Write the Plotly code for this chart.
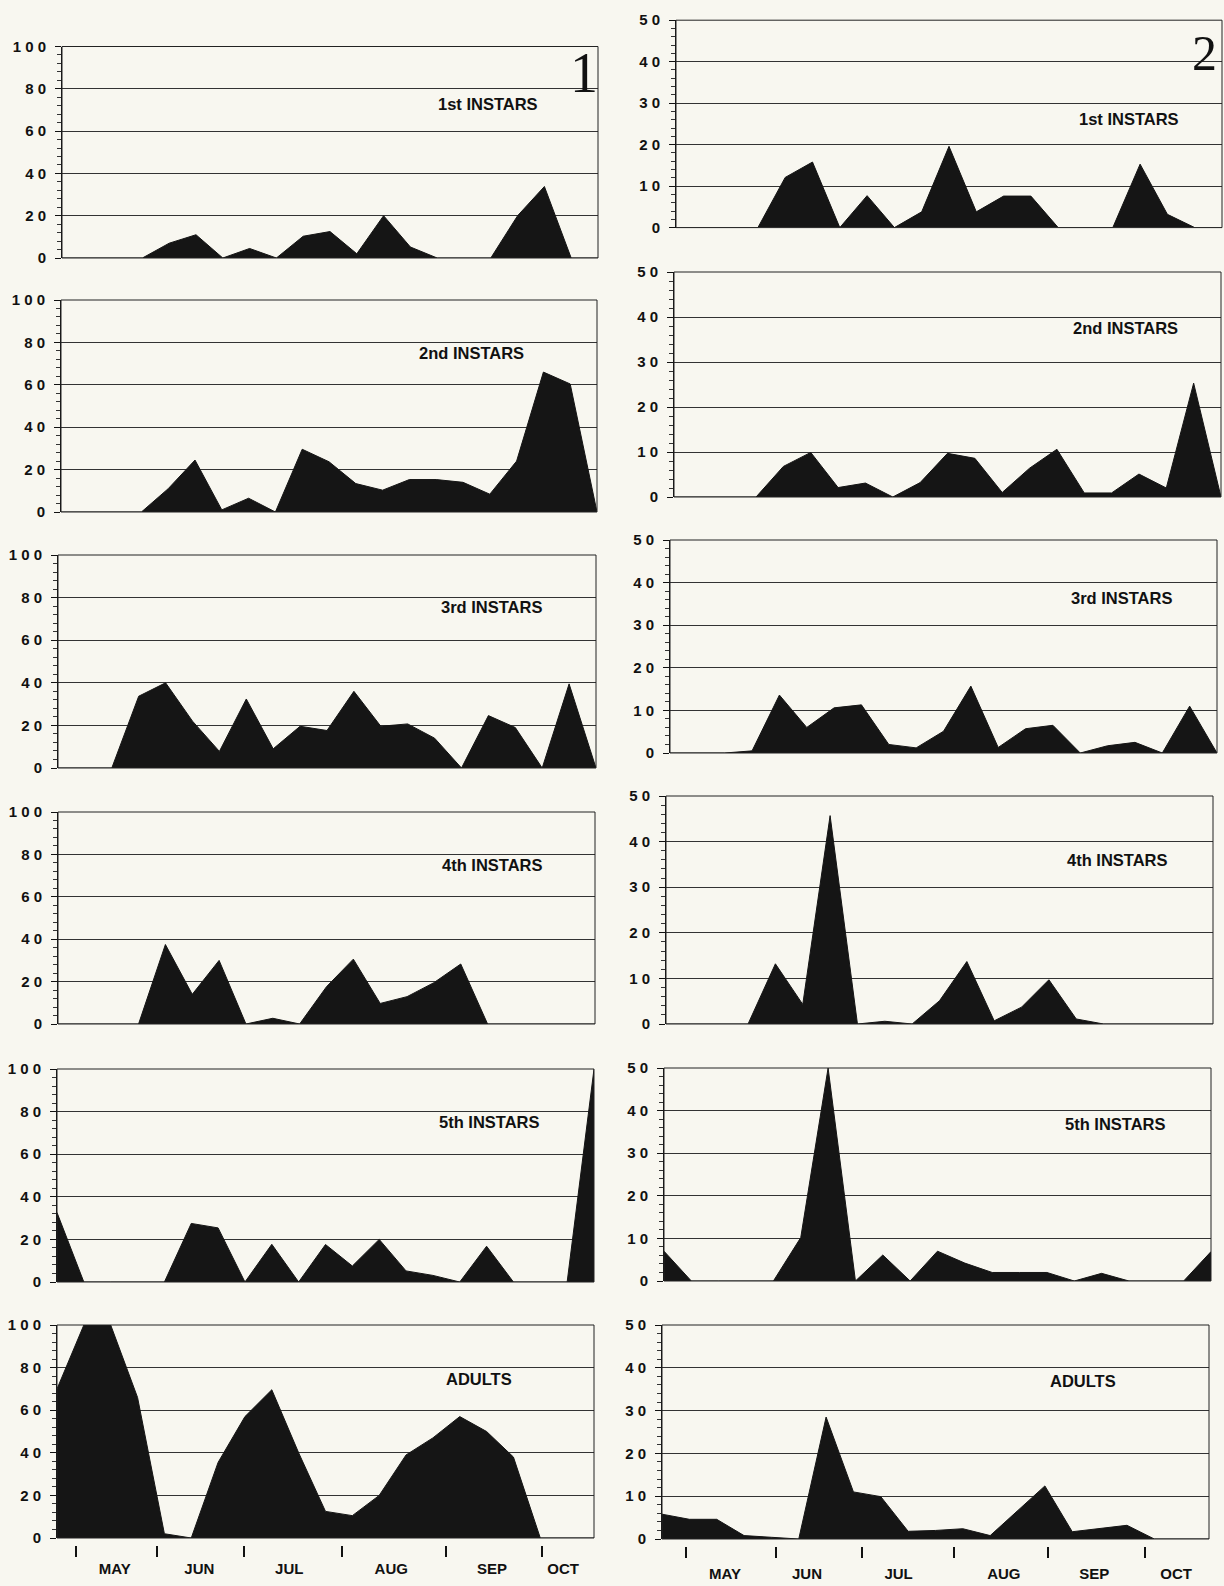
import plotly.graph_objects as go

# ---------------- data ----------------
weeks = list(range(21))  # weekly sampling dates, early May -> late October

stage_labels = ["1st INSTARS", "2nd INSTARS", "3rd INSTARS", "4th INSTARS", "5th INSTARS", "ADULTS"]

# Figure 1 (left column, 0-100 %)
fig1_1st = [0, 0, 0, 0, 7, 11, 0, 4.5, 0, 10.3, 12.5, 2, 20, 5.2, 0, 0, 0, 20, 33.8, 0, 0]
fig1_2nd = [0, 0, 0, 0, 11, 24.5, 1, 6.5, 0, 29.6, 23.7, 13.4, 10.3, 15.3, 15.3, 14, 8.4, 24, 66, 60.4, 0]
fig1_3rd = [0, 0, 0, 33.7, 40, 22, 7.8, 32.4, 9, 19.6, 17.6, 36, 19.6, 20.7, 14, 0, 24.6, 19, 0, 39.5, 0]
fig1_4th = [0, 0, 0, 0, 37.5, 14, 30, 0, 2.7, 0, 17.6, 30.6, 9.7, 12.9, 19.5, 28.3, 0, 0, 0, 0, 0]
fig1_5th = [32.6, 0, 0, 0, 0, 27.5, 25.4, 0, 17.7, 0, 17.6, 7.5, 20, 5.2, 3.1, 0, 16.8, 0, 0, 0, 100]
fig1_adults = [70, 100, 100, 66, 2, 0, 35.5, 57, 69.6, 40, 12.5, 10.5, 20, 39, 47, 57, 50, 38, 0, 0, 0]

# Figure 2 (right column, 0-50 %)
fig2_1st = [0, 0, 0, 0, 12.1, 15.8, 0, 7.7, 0, 3.8, 19.6, 3.8, 7.6, 7.6, 0, 0, 0, 15.3, 3.2, 0, 0]
fig2_2nd = [0, 0, 0, 0, 6.8, 9.9, 2.1, 3.1, 0, 3.2, 9.7, 8.6, 1.0, 6.4, 10.6, 0.9, 0.9, 5.1, 2, 25.3, 0]
fig2_3rd = [0, 0, 0, 0.5, 13.6, 6, 10.6, 11.3, 2, 1.2, 5.1, 15.7, 1.3, 5.7, 6.5, 0, 1.7, 2.5, 0, 11, 0]
fig2_4th = [0, 0, 0, 0, 13.2, 4.3, 45.7, 0, 0.6, 0, 5.1, 13.7, 0.7, 3.7, 9.7, 1.1, 0, 0, 0, 0, 0]
fig2_5th = [7, 0, 0, 0, 0, 10.2, 50, 0, 6.1, 0, 7, 4.2, 2, 2, 2, 0, 1.8, 0, 0, 0, 6.9]
fig2_adults = [5.8, 4.6, 4.6, 0.8, 0.4, 0, 28.5, 11, 9.9, 1.8, 2, 2.4, 0.8, 6.6, 12.4, 1.7, 2.4, 3.2, 0, 0, 0]

fig1_series = [fig1_1st, fig1_2nd, fig1_3rd, fig1_4th, fig1_5th, fig1_adults]
fig2_series = [fig2_1st, fig2_2nd, fig2_3rd, fig2_4th, fig2_5th, fig2_adults]

months = ["MAY", "JUN", "JUL", "AUG", "SEP", "OCT"]
fig1_month_label_pos = [2.15, 5.3, 8.65, 12.45, 16.2, 18.85]
fig1_month_boundaries = [0.72, 3.72, 6.95, 10.6, 14.5, 18.05]
fig2_month_label_pos = [2.3, 5.3, 8.65, 12.5, 15.8, 18.8]
fig2_month_boundaries = [0.87, 4.15, 7.3, 10.66, 14.1, 17.67]

fig1_yticks = [0, 20, 40, 60, 80, 100]
fig2_yticks = [0, 10, 20, 30, 40, 50]

# ---------------- layout geometry (pixels) ----------------
W, H = 1224, 1586
left_x = [(62, 598), (61, 597), (58, 596), (58, 595), (57, 594), (57, 594)]
left_y = [(46.5, 258), (300, 512), (555, 768), (812, 1024), (1069, 1282), (1325, 1538)]
right_x = [(676, 1222), (674, 1221), (670, 1217), (666, 1213), (664, 1211), (662, 1209)]
right_y = [(20.2, 227.6), (272, 497), (540, 753), (796, 1024), (1068, 1281), (1325, 1539)]

fig1_label_pos = [(15.9, 73), (15.3, 75), (16.1, 75.5), (16.2, 75), (16.1, 75), (15.7, 74.8)]
fig2_label_pos = [(16.6, 26.3), (16.5, 37.6), (16.5, 36.4), (16.5, 36), (16.5, 36.9), (15.4, 37)]

BG = "#f8f7f0"
FILL = "#151515"
FONT = "Liberation Sans, Arial, sans-serif"

fig = go.Figure()
layout = dict(
    template="none",
    width=W, height=H, autosize=False,
    margin=dict(l=0, r=0, t=0, b=0, pad=0),
    paper_bgcolor=BG, plot_bgcolor=BG,
    showlegend=False,
)
shapes = []
annotations = []


def spaced(v):
    return " ".join(str(v))


for col in range(2):
    series = fig1_series if col == 0 else fig2_series
    xs = left_x if col == 0 else right_x
    ys = left_y if col == 0 else right_y
    yticks = fig1_yticks if col == 0 else fig2_yticks
    ymax = 100 if col == 0 else 50
    minor_dt = 4 if col == 0 else 2
    lab_pos = fig1_label_pos if col == 0 else fig2_label_pos
    for row in range(6):
        k = row * 2 + col + 1
        xn = f"x{k}" if k > 1 else "x"
        yn = f"y{k}" if k > 1 else "y"
        xkey = f"xaxis{k}" if k > 1 else "xaxis"
        ykey = f"yaxis{k}" if k > 1 else "yaxis"
        x0, x1 = xs[row]
        ytop, ybot = ys[row]
        fig.add_trace(go.Scatter(
            x=weeks, y=series[row], xaxis=xn, yaxis=yn,
            mode="lines", fill="tozeroy", fillcolor=FILL,
            line=dict(color=FILL, width=1), hoverinfo="skip",
        ))
        xa = dict(
            domain=[x0 / W, x1 / W], range=[0, 20], anchor=yn,
            showgrid=False, zeroline=False, showline=False, automargin=False,
            showticklabels=False, ticks="", fixedrange=True,
        )
        if row == 5:
            bounds = fig1_month_boundaries if col == 0 else fig2_month_boundaries
            lpos = fig1_month_label_pos if col == 0 else fig2_month_label_pos
            xa.update(
                anchor="free", position=1 - (ybot + 7) / H,
                showticklabels=True, tickmode="array", tickvals=lpos, ticktext=months,
                ticks="", ticklabelstandoff=13 if col == 0 else 17,
                tickfont=dict(family="Liberation Sans Narrow, Arial Narrow, Liberation Sans, Arial",
                              size=15, color="#111", weight="bold"),
                minor=dict(tickmode="array", tickvals=bounds, ticks="outside",
                           ticklen=11, tickwidth=1.6, tickcolor="#111", showgrid=False),
            )
        layout[xkey] = xa
        layout[ykey] = dict(
            domain=[1 - ybot / H, 1 - ytop / H], range=[0, ymax], anchor=xn,
            tickmode="array", tickvals=yticks, ticktext=[spaced(v) for v in yticks],
            ticks="outside", ticklen=6, tickwidth=1, tickcolor="#111",
            ticklabelstandoff=6, automargin=False,
            showline=True, linecolor="#111", linewidth=1,
            showgrid=True, gridcolor="#333", gridwidth=1, zeroline=False,
            tickfont=dict(family=FONT, size=15, color="#111", weight="bold"),
            minor=dict(dtick=minor_dt, tick0=0, ticks="outside", ticklen=4,
                       tickwidth=1, tickcolor="#333", showgrid=False),
            fixedrange=True,
        )
        shapes.append(dict(
            type="rect", xref=f"{xn} domain", yref=f"{yn} domain",
            x0=0, x1=1, y0=0, y1=1, line=dict(color="#222", width=1),
            layer="above",
        ))
        ax, ay = lab_pos[row]
        annotations.append(dict(
            x=ax, y=ay, xref=xn, yref=yn, text=stage_labels[row], showarrow=False,
            xanchor="center", yanchor="middle",
            font=dict(family=FONT, size=16.5, color="#111", weight="bold"),
        ))

# figure numbers
annotations.append(dict(x=584 / W, y=1 - 73 / H, xref="paper", yref="paper", text="1",
                        showarrow=False, xanchor="center", yanchor="middle",
                        font=dict(family="Liberation Serif, Times New Roman, serif", size=56, color="#111")))
annotations.append(dict(x=1204 / W, y=1 - 53 / H, xref="paper", yref="paper", text="2",
                        showarrow=False, xanchor="center", yanchor="middle",
                        font=dict(family="Liberation Serif, Times New Roman, serif", size=50, color="#111")))

layout["shapes"] = shapes
layout["annotations"] = annotations
fig.update_layout(**layout)
fig.write_html("out.html", config={"displayModeBar": False},
               post_script="document.body.style.margin='0';document.body.style.background='" + BG + "';")
